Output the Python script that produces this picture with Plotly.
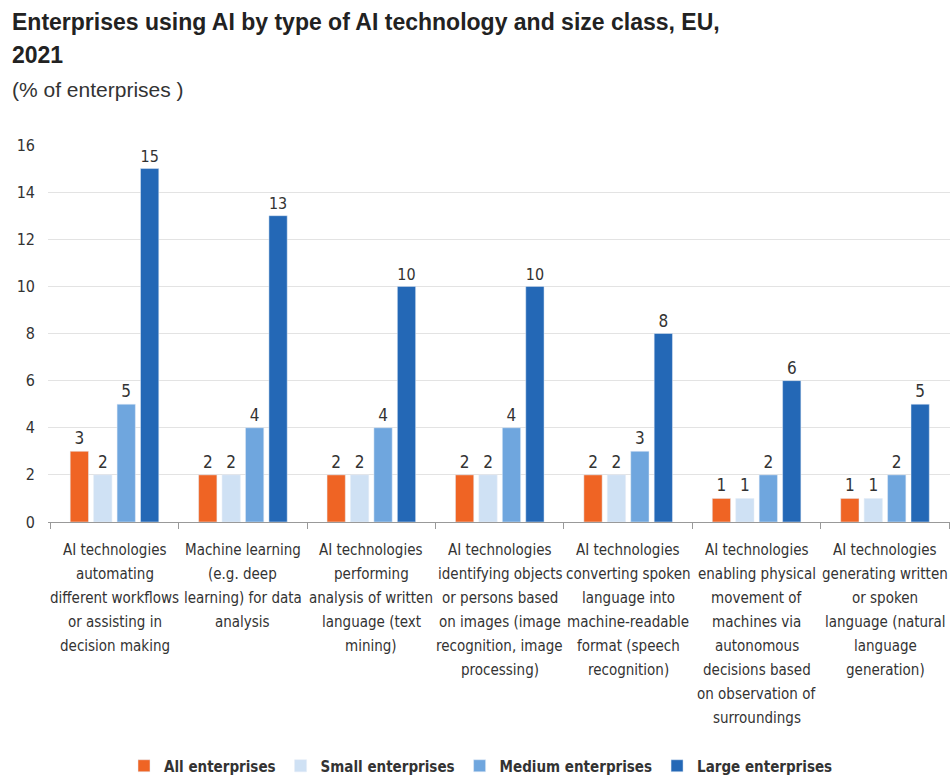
import plotly.graph_objects as go

categories = [
    "AI technologies automating different workflows or assisting in decision making",
    "Machine learning (e.g. deep learning) for data analysis",
    "AI technologies performing analysis of written language (text mining)",
    "AI technologies identifying objects or persons based on images (image recognition, image processing)",
    "AI technologies converting spoken language into machine-readable format (speech recognition)",
    "AI technologies enabling physical movement of machines via autonomous decisions based on observation of surroundings",
    "AI technologies generating written or spoken language (natural language generation)",
]
# wrapped lines of each category label, as printed under the axis
category_lines = [
    ["AI technologies", "automating", "different workflows", "or assisting in", "decision making"],
    ["Machine learning", "(e.g. deep", "learning) for data", "analysis"],
    ["AI technologies", "performing", "analysis of written", "language (text", "mining)"],
    ["AI technologies", "identifying objects", "or persons based", "on images (image", "recognition, image", "processing)"],
    ["AI technologies", "converting spoken", "language into", "machine-readable", "format (speech", "recognition)"],
    ["AI technologies", "enabling physical", "movement of", "machines via", "autonomous", "decisions based", "on observation of", "surroundings"],
    ["AI technologies", "generating written", "or spoken", "language (natural", "language", "generation)"],
]
series_names = ["All enterprises", "Small enterprises", "Medium enterprises", "Large enterprises"]
all_ent = [3, 2, 2, 2, 2, 1, 1]
small_ent = [2, 2, 2, 2, 2, 1, 1]
medium_ent = [5, 4, 4, 4, 3, 2, 2]
large_ent = [15, 13, 10, 10, 8, 6, 5]
y_ticks = [0, 2, 4, 6, 8, 10, 12, 14, 16]

colors = ["#EF6424", "#CFE1F4", "#6FA6DE", "#2468B6"]
FONT = "DejaVu Sans Condensed, Liberation Sans, Arial, sans-serif"
TXT = "#333333"

fig = go.Figure()
for name, vals, col in zip(series_names, [all_ent, small_ent, medium_ent, large_ent], colors):
    fig.add_trace(go.Bar(
        name="<b>" + name + "</b>", x=categories, y=vals, marker_color=col,
        text=[str(v) for v in vals], textposition="outside", cliponaxis=False,
        textfont=dict(size=17, color=TXT, family=FONT),
    ))

PLOT_TOP, PLOT_BOTTOM = 145, 522
H = PLOT_BOTTOM - PLOT_TOP
PLOT_LEFT, PLOT_W = 48, 902

def py(pix):
    return (PLOT_BOTTOM - pix) / H

def px(pix):
    return (pix - PLOT_LEFT) / PLOT_W

annotations = [
    dict(text="<b>Enterprises using AI by type of AI technology and size class, EU,</b>",
         xref="paper", yref="paper", x=px(10), y=py(22), xanchor="left", yanchor="middle",
         showarrow=False, font=dict(size=23, color="#222222", family="Liberation Sans, Arial")),
    dict(text="<b>2021</b>", xref="paper", yref="paper", x=px(10), y=py(55),
         xanchor="left", yanchor="middle", showarrow=False,
         font=dict(size=23, color="#222222", family="Liberation Sans, Arial")),
    dict(text="(% of enterprises )", xref="paper", yref="paper", x=px(10), y=py(90),
         xanchor="left", yanchor="middle", showarrow=False,
         font=dict(size=21, color=TXT, family="Liberation Sans, Arial")),
]
for cat, lines in zip(categories, category_lines):
    for i, line in enumerate(lines):
        annotations.append(dict(
            text=line, xref="x", yref="paper", x=cat, y=0, yshift=-(28 + 24 * i),
            xanchor="center", yanchor="middle", showarrow=False,
            font=dict(size=15, color=TXT, family=FONT)))

fig.update_layout(
    width=952, height=777,
    margin=dict(l=PLOT_LEFT, r=952 - PLOT_LEFT - PLOT_W, t=PLOT_TOP, b=777 - PLOT_BOTTOM,
                autoexpand=False),
    paper_bgcolor="white", plot_bgcolor="white",
    barmode="group", bargap=0.27, bargroupgap=0.22,
    font=dict(family=FONT, color=TXT),
    showlegend=True,
    legend=dict(orientation="h", x=px(481), xanchor="center", y=py(766), yanchor="middle",
                font=dict(size=15, color=TXT, family=FONT), tracegroupgap=0),
    xaxis=dict(tickson="boundaries", ticks="outside", ticklen=6, tickcolor="#999999",
               showline=True, linecolor="#999999", linewidth=1, showgrid=False,
               showticklabels=False, automargin=False),
    yaxis=dict(range=[0, 16], tickvals=y_ticks, showgrid=True, gridcolor="#E3E3E3",
               zeroline=False, showline=False, ticks="", ticklabelstandoff=12,
               automargin=False,
               tickfont=dict(size=16, color=TXT, family=FONT)),
    annotations=annotations,
)

fig.write_html("out.html")
